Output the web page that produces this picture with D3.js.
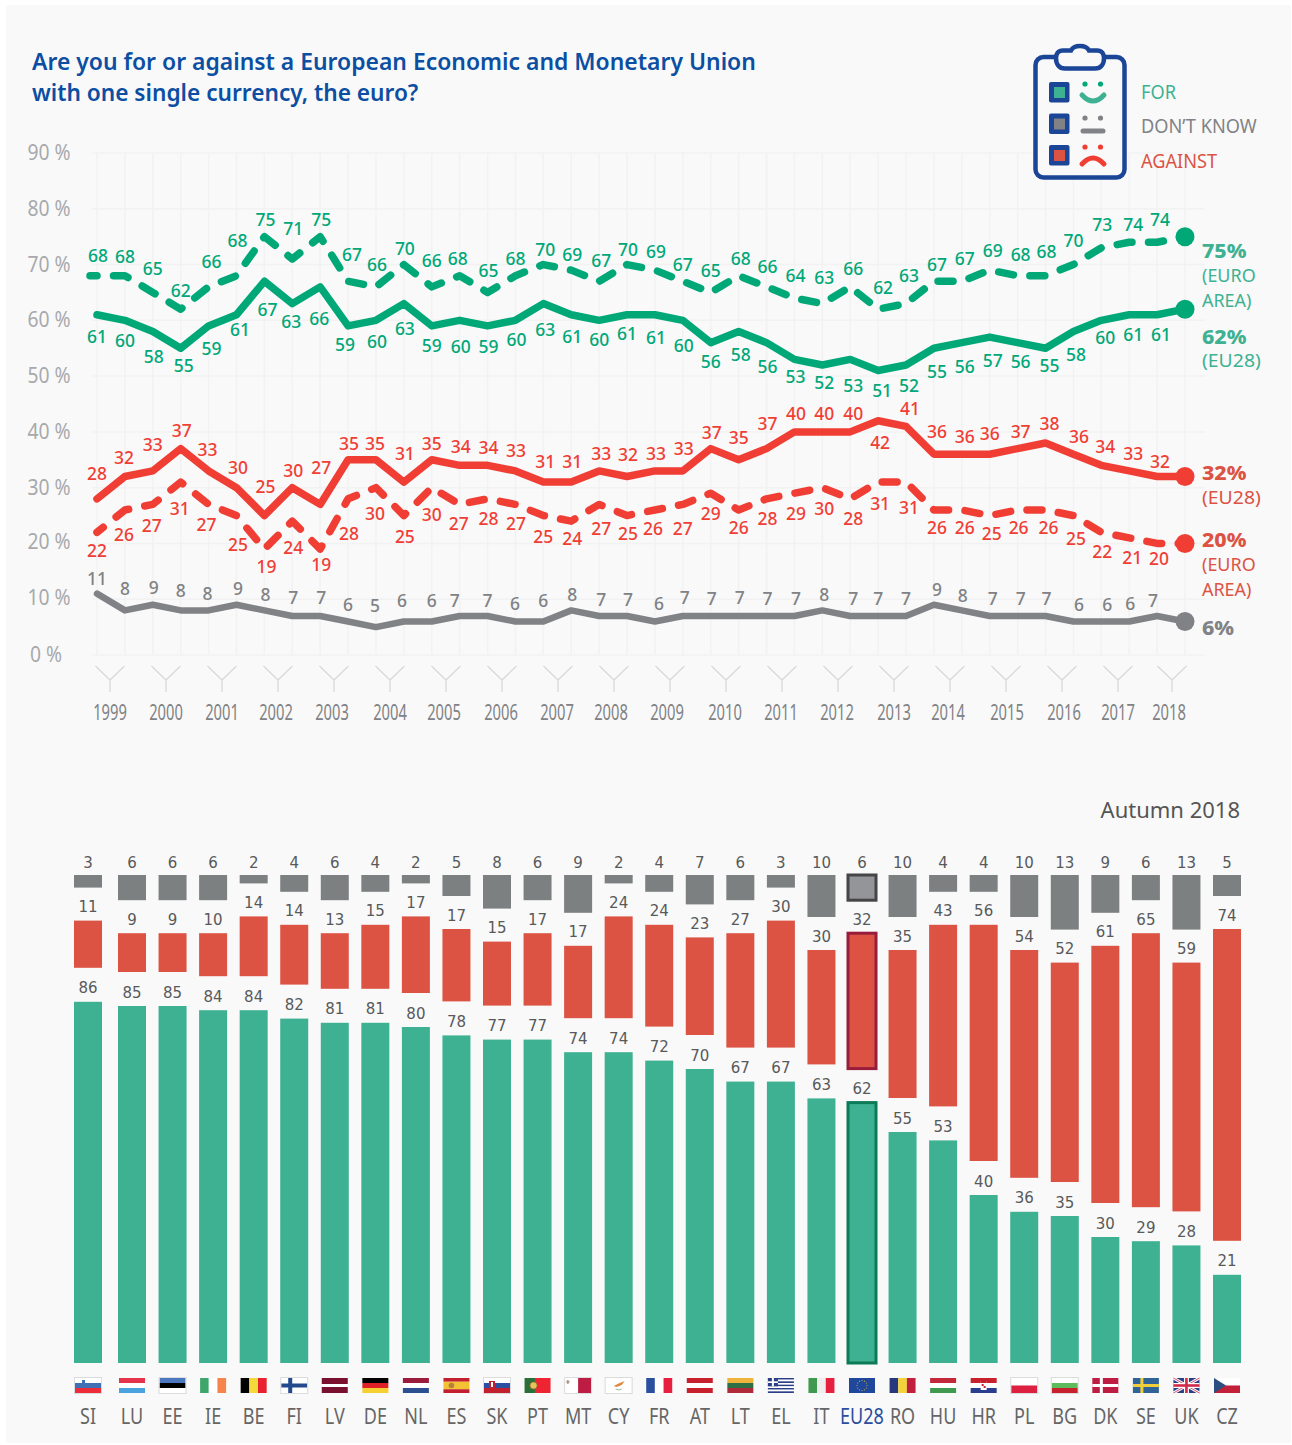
<!DOCTYPE html>
<html><head><meta charset="utf-8">
<script src="https://cdn.jsdelivr.net/npm/d3@7"></script>
<style>html,body{margin:0;padding:0;background:#fff}svg{display:block}text{font-family:"Noto Sans",sans-serif}</style>
</head><body><svg id="c" width="1292" height="1445"></svg>
<script>
const forEuro=[68,68,65,62,66,68,75,71,75,67,66,70,66,68,65,68,70,69,67,70,69,67,65,68,66,64,63,66,62,63,67,67,69,68,68,70,73,74,74,75];
const forEU=[61,60,58,55,59,61,67,63,66,59,60,63,59,60,59,60,63,61,60,61,61,60,56,58,56,53,52,53,51,52,55,56,57,56,55,58,60,61,61,62];
const againstEU=[28,32,33,37,33,30,25,30,27,35,35,31,35,34,34,33,31,31,33,32,33,33,37,35,37,40,40,40,42,41,36,36,36,37,38,36,34,33,32,32];
const againstEuro=[22,26,27,31,27,25,19,24,19,28,30,25,30,27,28,27,25,24,27,25,26,27,29,26,28,29,30,28,31,31,26,26,25,26,26,25,22,21,20,20];
const dontKnow=[11,8,9,8,8,9,8,7,7,6,5,6,6,7,7,6,6,8,7,7,6,7,7,7,7,7,8,7,7,7,9,8,7,7,7,6,6,6,7,6];
const years=d3.range(1999,2019);
const yTicks=[0,10,20,30,40,50,60,70,80,90];
// label nudges (px from the point)
const nForEuro=[-21,-20,-25,-19,-26,-36,-18,-31,-18,-27,-23,-17,-27,-18,-23,-18,-16,-16,-21,-16,-19,-17,-23,-18,-21,-23,-27,-19,-22,-29,-17,-23,-20,-22,-25,-25,-24,-18,-23];
const nForEU=[21,20,24,17,22,14,28,17,31,18,21,24,19,26,20,19,25,21,19,18,22,25,18,22,23,17,17,26,19,20,23,23,23,18,17,22,17,19,19];
const nAgEU=[-26,-20,-27,-19,-22,-21,-30,-18,-38,-17,-17,-29,-17,-19,-18,-21,-21,-21,-18,-23,-18,-23,-17,-23,-26,-19,-19,-19,21,-18,-23,-18,-21,-18,-20,-18,-19,-18,-16];
const nAgEuro=[18,24,20,26,19,28,17,26,15,34,25,20,26,18,19,18,20,17,23,17,18,23,20,17,19,20,20,19,21,25,17,17,17,17,17,22,19,19,14];
const nDK=[-16,-22,-18,-20,-17,-17,-16,-19,-19,-18,-22,-22,-22,-16,-16,-19,-22,-16,-17,-17,-19,-19,-18,-19,-18,-18,-16,-18,-18,-18,-16,-15,-18,-18,-18,-18,-18,-19,-16];
const dxForEuro=[0,-1,-1,-1,2,0,0,0,0,3,0,0,-1,-3,0,-1,1,0,1,0,0,-1,-1,1,0,0,1,2,4,2,2,2,2,2,0,-1,0,3,2];
const dxForEU=[-1,-1,0,2,2,2.5,2,-2,-2,-4,0,0,-1,0,0,0,1,0,-1,-1,0,0,-1,1,0,0,1,2,3,2,2,2,2,2,3,1.5,3,3,3];
const dxAgEU=[-1,-2,-1,0,-2,.5,0,0,0,0,-2,0,-1,0,0,-.5,1,0,1,0,0,0,0,-1,0,.5,1,2,1,3,2,2,-1,2,3,4.5,3,3,2];
const dxAgEuro=[-1,-2,-2,-2,-3,.5,1,0,0,0,-2,0,-1,-2,0,-.5,-1,0,1,0,-3,-1,-1,-1,0,.5,1,2,1,2,2,2,1,0,2,1.5,0,2,1];
const dxDK=[-1,-1,0,-1,-2,.5,0,0,0,-1,-2,-3,-1,-6,-1,-1.5,-1,0,1,0,3,1,0,0,0,.5,1,2,-1,-1,2,0,2,2,0,4.5,5,0,-5];

const countries=["SI","LU","EE","IE","BE","FI","LV","DE","NL","ES","SK","PT","MT","CY","FR","AT","LT","EL","IT","EU28","RO","HU","HR","PL","BG","DK","SE","UK","CZ"];
const barGray=[3,6,6,6,2,4,6,4,2,5,8,6,9,2,4,7,6,3,10,6,10,4,4,10,13,9,6,13,5];
const barRed=[11,9,9,10,14,14,13,15,17,17,15,17,17,24,24,23,27,30,30,32,35,43,56,54,52,61,65,59,74];
const barGreen=[86,85,85,84,84,82,81,81,80,78,77,77,74,74,72,70,67,67,63,62,55,53,40,36,35,30,29,28,21];

const GREEN="#00a878",RED="#f03e35",GRAY="#808285",BG="#3eb192",BR="#dc5344",BG2="#7d8081",NAVY="#1b4596";
const svg=d3.select("#c");
svg.append("rect").attr("x",6).attr("y",5).attr("width",1285).attr("height",1438).attr("fill","#f9f9f9");

function T(x,y,s,o={}){
  const t=svg.append("text").attr("transform",`translate(${x},${y}) scale(${o.sx||1},1)`)
   .attr("text-anchor",o.a||"middle").attr("dominant-baseline","central")
   .attr("font-size",o.fs||16).attr("font-weight",o.w||400).attr("fill",o.c||"#555").text(s);
  if(o.ff)t.style("font-family",o.ff);
  return t;
}
// title
T(32,61,"Are you for or against a European Economic and Monetary Union",{a:"start",fs:24,w:600,c:"#0b4ea2",sx:.955});
T(32,92,"with one single currency, the euro?",{a:"start",fs:24,w:600,c:"#0b4ea2",sx:.945});

// LINE CHART
const x=d3.scalePoint().domain(d3.range(40)).range([97,1185]);
const y=d3.scaleLinear().domain([0,90]).range([655,153]);
const grid=svg.append("g").attr("stroke","#f2f2f2").attr("stroke-width",1.5);
yTicks.forEach(t=>grid.append("line").attr("x1",92).attr("x2",1205).attr("y1",y(t)).attr("y2",y(t)));
d3.range(40).forEach(i=>grid.append("line").attr("x1",x(i)).attr("x2",x(i)).attr("y1",y(90)).attr("y2",y(0)));
yTicks.forEach(t=>T(t==0?46:49,y(t)-(t==20||t==10?3:1.2),t+" %",{fs:21,c:"#a7a9ac",sx:.92}));
// year marks
const yearX=d3.scaleLinear().domain([0,18]).range([110,1118]);
const yearLabelDx=[0,0,0,-2,-2,0,-2,-1,-1,-3,-3,-1,-1,-1,0,-2,1,2,0,-3];
years.forEach((yr,i)=>{
  const cx=i==19?1172:yearX(i),s=14.5;
  svg.append("path").attr("d",`M${cx-s},666L${cx},680L${cx+s},666M${cx},680V692`).attr("fill","none").attr("stroke","#d8d9da").attr("stroke-width",1.3);
  T(cx+yearLabelDx[i],711,yr,{fs:22,c:"#808285",sx:.67});
});
function series(vals,color,sw,dash,nudges,dxs,x0){
  const line=d3.line().x((d,i)=>i==0&&x0?x0:x(i)).y(d=>y(d));
  const p=svg.append("path").attr("d",line(vals)).attr("fill","none").attr("stroke",color).attr("stroke-width",sw)
    .attr("stroke-linejoin","round").attr("stroke-linecap","round");
  if(dash)p.attr("stroke-dasharray","15 16.5").attr("stroke-dashoffset",dash);
  svg.append("circle").attr("cx",x(39)).attr("cy",y(vals[39])).attr("r",9.5).attr("fill",color);
  vals.slice(0,39).forEach((v,i)=>T(x(i)+1+dxs[i],y(v)+nudges[i],v,{fs:18,w:500,c:color,sx:.97}));
}
series(forEuro,GREEN,7.5,8,nForEuro,dxForEuro,90);
series(forEU,GREEN,7.5,0,nForEU,dxForEU);
series(againstEU,RED,7.5,0,nAgEU,dxAgEU);
series(againstEuro,RED,7.5,7,nAgEuro,dxAgEuro);
series(dontKnow,GRAY,6.5,0,nDK,dxDK);
// right labels
[[250,"75%",1,BG,1.07],[275,"(EURO",0,BG,.97],[300,"AREA)",0,BG,.97],[336,"62%",1,BG,1.07],[360,"(EU28)",0,BG,1.05],
 [472.5,"32%",1,BR,1.07],[497,"(EU28)",0,BR,1.05],[539.5,"20%",1,BR,1.07],[564,"(EURO",0,BR,.97],[589,"AREA)",0,BR,.97],[627.5,"6%",1,GRAY,1.07]]
 .forEach(d=>T(1202,d[0],d[1],{a:"start",fs:d[2]?20:18.5,w:d[2]?800:400,c:d[3],sx:d[4]}));

// Legend icon
const ic=svg.append("g").attr("fill","none").attr("stroke",NAVY).attr("stroke-width",4.5);
ic.append("rect").attr("x",1035.5).attr("y",57).attr("width",89).attr("height",120.5).attr("rx",8).attr("fill","#f9f9f9");
ic.append("path").attr("d","M1063,50.5C1058,50.5 1056,54 1056,58C1056,64 1059,68.5 1065,68.5H1095C1101,68.5 1104,64 1104,58C1104,54 1102,50.5 1097,50.5H1089C1087,46.5 1084,46 1080,46C1076,46 1073,46.5 1071,50.5Z").attr("fill","#f9f9f9");
[[82,"#3eb192"],[113.5,"#808285"],[145,"#dc5344"]].forEach(d=>{
  svg.append("rect").attr("x",1049).attr("y",d[0]).attr("width",20.5).attr("height",20.5).attr("rx",2).attr("fill",NAVY);
  svg.append("rect").attr("x",1054).attr("y",d[0]+5).attr("width",11).attr("height",11).attr("fill",d[1]);
});
[[84,GREEN],[118,GRAY],[147,RED]].forEach(d=>[1085,1100.5].forEach(cx=>svg.append("circle").attr("cx",cx).attr("cy",d[0]).attr("r",2.6).attr("fill",d[1])));
svg.append("path").attr("d","M1082,95Q1093,107 1104,95").attr("fill","none").attr("stroke","#3eb192").attr("stroke-width",5).attr("stroke-linecap","round");
svg.append("line").attr("x1",1083).attr("x2",1103).attr("y1",131).attr("y2",131).attr("stroke",GRAY).attr("stroke-width",5).attr("stroke-linecap","round");
svg.append("path").attr("d","M1082,164Q1093,152 1104,164").attr("fill","none").attr("stroke",RED).attr("stroke-width",5).attr("stroke-linecap","round");
T(1141,92,"FOR",{a:"start",fs:20,c:BG,sx:.91});
T(1141,126,"DON’T KNOW",{a:"start",fs:20,c:GRAY,sx:.91});
T(1141,161,"AGAINST",{a:"start",fs:20,c:BR,sx:.91});

// BAR CHART
T(1240,809,"Autumn 2018",{a:"end",fs:22,c:"#555"});
const xb=d3.scalePoint().domain(countries.slice(1)).range([132,1227]);
const bx=c=>c=="SI"?88:xb(c);
const barW=28;
const yGreen=d3.scaleLinear().domain([0,100]).range([1363,943]);
const yGray=d3.scaleLinear().domain([0,100]).range([875,1295]);
const DF="DejaVu Sans";
countries.forEach((c,i)=>{
  const cx=bx(c),eu=c=="EU28";
  const gt=yGreen(barGreen[i]),gy=yGray(barGray[i]);
  const rb=gt-34,rt=gy+33;
  const bar=(t,b,f,st)=>{
    const r=svg.append("rect").attr("fill",f).attr("x",cx-barW/2).attr("width",barW).attr("y",t).attr("height",b-t);
    if(st) r.attr("stroke",st).attr("stroke-width",3);
  };
  bar(gt,yGreen(0),BG,eu?"#0b7a57":null);
  bar(rt,rb,BR,eu?"#981c3b":null);
  if(eu) bar(875,gy,"#939598","#454547"); else bar(875,gy,BG2);
  T(cx,gt-13.5,barGreen[i],{fs:15,c:"#58595b",ff:DF});
  T(cx,rt-13.5,barRed[i],{fs:15,c:"#58595b",ff:DF});
  T(cx,875-12.5,barGray[i],{fs:15,c:"#58595b",ff:DF});
  T(cx,1415.5,c,{fs:22,c:eu?"#2a4d9f":"#666",sx:.82});
  flag(c,cx);
});

function flag(c,cx){
  const W=26,H=15,x0=cx-W/2,y0=1378,g=svg.append("g");
  const R=(a,b,w,h,f)=>g.append("rect").attr("x",x0+a).attr("y",y0+b).attr("width",w).attr("height",h).attr("fill",f);
  const H3=(cs,ws)=>{const s=d3.sum(ws||cs.map(()=>1));let p=0;cs.forEach((k,i)=>{const h=H*(ws?ws[i]:1)/s;R(0,p,W,h,k);p+=h;});};
  const V3=(cs,ws)=>{const s=d3.sum(ws||cs.map(()=>1));let p=0;cs.forEach((k,i)=>{const w=W*(ws?ws[i]:1)/s;R(p,0,w,H,k);p+=w;});};
  const cross=(bg,fg,th)=>{R(0,0,W,H,bg);R(0,(H-th)/2,W,th,fg);R(8-th/2+1,0,th,H,fg);};
  switch(c){
    case"SI":H3(["#fff","#3f6fb5","#ee2b39"]);R(7,2,3,5,"#3f6fb5");break;
    case"LU":H3(["#e4334a","#fff","#4aa3df"]);break;
    case"EE":H3(["#4b77be","#000","#fff"]);break;
    case"IE":V3(["#3fa66b","#fff","#f5854c"]);break;
    case"BE":V3(["#000","#f4d93a","#e8202f"]);break;
    case"FI":cross("#fff","#234a8c",4);break;
    case"LV":H3(["#7a1030","#fff","#7a1030"],[2,1,2]);break;
    case"DE":H3(["#000","#e01f26","#f5d033"]);break;
    case"NL":H3(["#9b1b3c","#fff","#2c4f91"]);break;
    case"ES":H3(["#c2202e","#f4c133","#c2202e"],[1,2,1]);g.append("circle").attr("cx",x0+8).attr("cy",y0+7.5).attr("r",2.8).attr("fill","#b5813a");break;
    case"SK":H3(["#fff","#2a4fa3","#c2202e"]);R(5,3,6,8,"#c2202e");R(7,4,2,5,"#fff");break;
    case"PT":V3(["#2a6f3a","#ef2433"],[2,3]);g.append("circle").attr("cx",x0+9).attr("cy",y0+7.5).attr("r",3.6).attr("fill","#e7c25a").attr("stroke","#8a6a2a").attr("stroke-width",.7);break;
    case"MT":V3(["#fff","#bd1d42"]);R(2,2,1.5,4,"#a98");R(1,3.2,3.6,1.3,"#a98");break;
    case"CY":R(0,0,W,H,"#fff");g.append("path").attr("d",`M${x0+8},${y0+8}L${x0+14},${y0+5}L${x0+19},${y0+3}L${x0+16},${y0+7}L${x0+11},${y0+9}Z`).attr("fill","#e0873a");g.append("path").attr("d",`M${x0+10},${y0+11}Q${x0+13},${y0+13} ${x0+16},${y0+11}`).attr("fill","none").attr("stroke","#8fb99b");break;
    case"FR":V3(["#2a4f9f","#fff","#e8203f"]);break;
    case"AT":H3(["#c8202c","#fff","#c8202c"]);break;
    case"LT":H3(["#eeb43b","#2f6f45","#b12a3a"]);break;
    case"EL":{d3.range(9).forEach(k=>R(0,k*H/9,W,H/9,k%2?"#fff":"#2a3f86"));R(0,0,10,8.3,"#2a3f86");R(4,0,2,8.3,"#fff");R(0,3.3,10,1.7,"#fff");break;}
    case"IT":V3(["#3f9a50","#eee","#e8203f"]);break;
    case"EU28":R(0,0,W,H,"#1f479c");d3.range(12).forEach(k=>g.append("circle").attr("cx",x0+13+5*Math.cos(k*Math.PI/6)).attr("cy",y0+7.5+5*Math.sin(k*Math.PI/6)).attr("r",.6).attr("fill","#c9b23a"));break;
    case"RO":V3(["#27397e","#f2d33a","#c01f3f"]);break;
    case"HU":H3(["#c2283a","#fff","#3f9a50"]);break;
    case"HR":H3(["#c8202c","#fff","#2a3e8f"]);R(10,3,6,9,"#fff");R(10,3,6,2,"#c8202c");R(11,6,2,2,"#c8202c");R(13,8,2,2,"#c8202c");break;
    case"PL":H3(["#fff","#dd1f40"]);break;
    case"BG":H3(["#fff","#5cbb5a","#c8202c"]);break;
    case"DK":cross("#bd1d42","#fff",3);break;
    case"SE":cross("#2f6499","#f2cf3a",3);break;
    case"UK":{R(0,0,W,H,"#2a3f86");g.append("path").attr("d",`M${x0},${y0}L${x0+W},${y0+H}M${x0+W},${y0}L${x0},${y0+H}`).attr("stroke","#fff").attr("stroke-width",3);g.append("path").attr("d",`M${x0},${y0}L${x0+W},${y0+H}M${x0+W},${y0}L${x0},${y0+H}`).attr("stroke","#d64a6a").attr("stroke-width",1);R(0,5,W,5,"#fff");R(10.5,0,5,H,"#fff");R(0,6.2,W,2.6,"#d12a4a");R(11.7,0,2.6,H,"#d12a4a");break;}
    case"CZ":H3(["#fff","#c21f38"]);g.append("path").attr("d",`M${x0},${y0}L${x0+12},${y0+7.5}L${x0},${y0+H}Z`).attr("fill","#2a4f80");break;
  }
  if(["SI","EE","FI","SK","MT","CY","PL","BG"].includes(c))g.append("rect").attr("x",x0-.5).attr("y",y0-.5).attr("width",W+1).attr("height",H+1).attr("fill","none").attr("stroke","#dcdcdc");
}
</script></body></html>
